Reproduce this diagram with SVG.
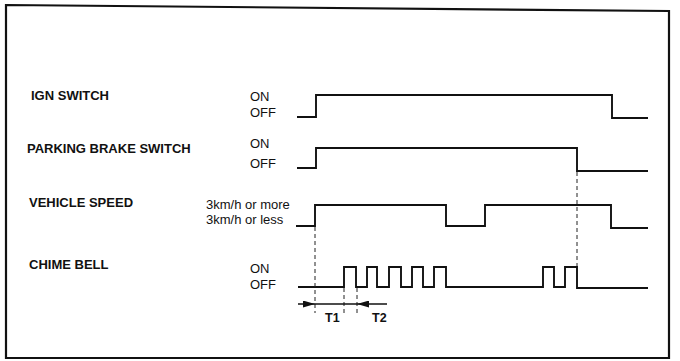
<svg xmlns="http://www.w3.org/2000/svg" width="680" height="361" viewBox="0 0 680 361">
<style>
.bg{fill:#ffffff}
.frame{fill:none;stroke:#111;stroke-width:2.2}
.wave{fill:none;stroke:#111;stroke-width:1.9;stroke-linejoin:miter}
.dash{fill:none;stroke:#222;stroke-width:1;stroke-dasharray:4 3}
.dim{fill:none;stroke:#111;stroke-width:1.5}
.name{font-family:"Liberation Sans",Arial,sans-serif;font-weight:bold;font-size:13px;fill:#111}
.lvl{font-family:"Liberation Sans",Arial,sans-serif;font-size:13px;fill:#111}
.t{font-family:"Liberation Sans",Arial,sans-serif;font-weight:bold;font-size:12.5px;fill:#111}
</style>
<defs>
<marker id="ah" viewBox="0 0 12 7" refX="12" refY="3.5" markerWidth="12" markerHeight="7" markerUnits="userSpaceOnUse" orient="auto">
<path d="M0,0 L12,3.5 L0,7 Z" fill="#111"/>
</marker>
</defs>
<rect class="bg" x="0" y="0" width="680" height="361"/>
<polygon class="frame" points="6,5 669,11 669,358 6,358"/>

<g id="ign-switch">
<text class="name" x="31" y="100">IGN SWITCH</text>
<text class="lvl" x="250" y="101">ON</text>
<text class="lvl" x="250" y="117">OFF</text>
<path class="wave" d="M297,117 H316 V95 H612 V118 H648"/>
</g>

<g id="parking-brake-switch">
<text class="name" x="27" y="153">PARKING BRAKE SWITCH</text>
<text class="lvl" x="250" y="148">ON</text>
<text class="lvl" x="250" y="168">OFF</text>
<path class="wave" d="M297,168 H316 V148 H577 V171 H648"/>
</g>

<g id="vehicle-speed">
<text class="name" x="29" y="207">VEHICLE SPEED</text>
<text class="lvl" x="206" y="209">3km/h or more</text>
<text class="lvl" x="206" y="224">3km/h or less</text>
<path class="wave" d="M296,226 H315 V205 H446 V226 H485 V205 H611 V228 H648"/>
</g>

<g id="chime-bell">
<text class="name" x="29" y="269">CHIME BELL</text>
<text class="lvl" x="250" y="273">ON</text>
<text class="lvl" x="250" y="289">OFF</text>
<path class="wave" d="M298,287 H344 V267 H356 V287 H367 V267 H377 V287 H389 V267 H401 V287 H412 V267 H423 V287 H434 V267 H446 V287 H543 V267 H554 V287 H565 V267 H577 V288 H648"/>
</g>

<g id="connectors">
<line class="dash" x1="315" y1="227" x2="315" y2="313"/>
<line class="dash" x1="577" y1="172" x2="577" y2="266"/>
<line class="dash" x1="344" y1="288" x2="344" y2="313"/>
<line class="dash" x1="357" y1="288" x2="357" y2="313"/>
<line class="dim" x1="298" y1="304" x2="315" y2="304" marker-end="url(#ah)"/>
<line class="dim" x1="315" y1="304" x2="357" y2="304"/>
<line class="dim" x1="387" y1="304" x2="357" y2="304" marker-end="url(#ah)"/>
<text class="t" x="325" y="322">T1</text>
<text class="t" x="372" y="322">T2</text>
</g>
</svg>
